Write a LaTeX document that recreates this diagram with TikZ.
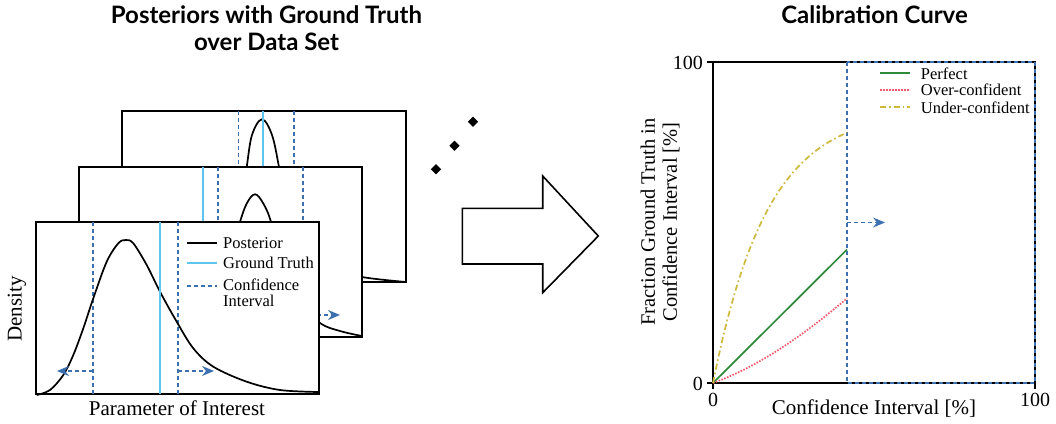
\documentclass[tikz,border=0pt]{standalone}
\usepackage{fontspec}
\setmainfont{Liberation Serif}
\newfontfamily\titlefont{Lato}
\usetikzlibrary{arrows.meta,shapes.geometric}
\definecolor{cib}{RGB}{61,112,174}
\definecolor{gtc}{RGB}{94,197,238}
\definecolor{perf}{RGB}{46,139,58}
\definecolor{overc}{RGB}{240,90,110}
\definecolor{underc}{RGB}{205,185,60}
\begin{document}
\begin{tikzpicture}[x=1pt,y=-1pt,
  frame/.style={draw=black, fill=white, line width=1.9pt},
  post/.style={black, line width=1.7pt},
  gt/.style={gtc, line width=1.7pt},
  ci/.style={cib, line width=1.6pt, dash pattern=on 4pt off 3pt},
  ciarrow/.style={ci, -{Stealth[length=12pt,width=10pt,inset=4pt]}},
  axl/.style={font=\fontsize{21}{24}\selectfont, inner sep=0pt},
  tickl/.style={font=\fontsize{20}{22}\selectfont, inner sep=0pt},
  legl/.style={font=\fontsize{16.5}{16}\selectfont, inner sep=0pt, anchor=west, align=left},
  ttl/.style={font=\titlefont\bfseries\fontsize{24}{27}\selectfont, inner sep=0pt, anchor=base},
  dotmark/.style={diamond, fill=black, inner sep=0pt, minimum size=10.5pt},
  perfl/.style={perf, line width=1.7pt},
  overl/.style={overc, line width=1.7pt, dash pattern=on 1.6pt off 1.4pt},
  underl/.style={underc, line width=1.7pt, dash pattern=on 6pt off 3pt on 1.6pt off 3pt},
]
\useasboundingbox (0,0) rectangle (1056,423);

% titles
\node[ttl] (t1) at (266.5,23) {Posteriors with Ground Truth};
\node[ttl] (t2) at (266.5,50) {over Data Set};
\node[ttl] (t3) at (874.5,23) {Calibration Curve};

% ---------- back frame ----------
\draw[frame] (122,111) rectangle (406,282);
\draw[ci] (238.3,111) -- (238.3,282);
\draw[ci] (294,111) -- (294,282);
\draw[post] plot[smooth, tension=0.6] coordinates {(122,282) (215,281) (236,240) (243,190) (246.7,167) (252,135) (262,119.3) (272,135) (279,167) (285,200) (300,245) (330,268) (362,277) (406,282)};
\draw[gt] (263.3,111) -- (263.3,282);

% ---------- middle frame ----------
\draw[frame] (79,167) rectangle (362,337);
\draw[ci] (217.7,167) -- (217.7,337);
\draw[ci] (302.7,167) -- (302.7,337);
\draw[post] plot[smooth, tension=0.6] coordinates {(79,337) (190,334) (222,300) (233,250) (240,222) (247,203) (255,194.3) (263,203) (271,222) (280,262) (295,300) (320,323) (340,331) (362,336)};
\draw[gt] (203,167) -- (203,337);
\coordinate (m1) at (302.7,315);
\coordinate (m2) at (340,315);
\draw[ciarrow] (m1) -- (m2);

% ---------- front frame ----------
\draw[frame] (36,222) rectangle (319,394);
\draw[ci] (92.7,222) -- (92.7,394);
\draw[ci] (177.7,222) -- (177.7,394);
\draw[post] plot[smooth, tension=0.55] coordinates {(36.7,395) (50,390) (63.3,375) (73.3,355) (83.3,328.3) (93.3,298.3) (106.7,261.7) (118.3,243.3) (125.7,240) (133.3,243.3) (146.7,265) (160,291.7) (176.7,321.7) (193.3,348.3) (213.3,366.7) (246.7,381.7) (280,390) (318.3,392)};
\draw[gt] (160,222) -- (160,394);
\coordinate (a0) at (92.7,371);
\coordinate (a1) at (57,371);
\coordinate (b0) at (177.7,371);
\coordinate (b1) at (214,371);
\draw[ciarrow] (a0) -- (a1);
\draw[ciarrow] (b0) -- (b1);
% legend
\coordinate (lp0) at (187,242.7); \coordinate (lp1) at (217,242.7);
\coordinate (lg0) at (187,263.3); \coordinate (lg1) at (217,263.3);
\coordinate (lc0) at (187,286);   \coordinate (lc1) at (217,286);
\draw[post] (lp0) -- (lp1);
\draw[gt] (lg0) -- (lg1);
\draw[ci] (lc0) -- (lc1);
\node[legl] (lpt) at (223,242.7) {Posterior};
\node[legl] (lgt) at (223,263.3) {Ground Truth};
\node[legl] (lct) at (223,293) {Confidence\\Interval};

\node[axl, rotate=90] (dens) at (17,309) {Density};
\node[axl, anchor=base] (poi) at (177,415) {Parameter of Interest};

% dots
\node[dotmark] (d1) at (436,169.3) {};
\node[dotmark] (d2) at (454.5,145.7) {};
\node[dotmark] (d3) at (473,121.7) {};

% big arrow
\draw[line width=1.6pt, fill=white] (462.3,208.3) -- (542.7,208.3) -- (542.7,176) -- (598.3,236) -- (542.7,292.7) -- (542.7,264) -- (462.3,264) -- cycle;

% ---------- calibration plot ----------
\draw[line width=1.8pt] (713,62) rectangle (1035,383);
\draw[line width=1.4pt] (707,62) -- (713,62);
\draw[line width=1.4pt] (707,383) -- (713,383);
\draw[line width=1.4pt] (713,383) -- (713,389);
\draw[line width=1.4pt] (1035,383) -- (1035,389);
\draw[ci] (847,62) rectangle (1035,383);
\coordinate (c0) at (847,222.5);
\coordinate (c1) at (885,222.5);
\draw[ciarrow] (c0) -- (c1);

\draw[perfl] (713,383) -- (847,249.5);
\draw[overl] (713,383) .. controls (760,366) and (805,334) .. (847,298.3);
\draw[underl] plot[domain=0:0.416, samples=80] ({713+322*\x},{383-273.8*(1-exp(-5.9*\x))});

\coordinate (rp0) at (880,73.3);  \coordinate (rp1) at (910,73.3);
\coordinate (ro0) at (880,90);    \coordinate (ro1) at (910,90);
\coordinate (ru0) at (880,107.3); \coordinate (ru1) at (910,107.3);
\draw[perfl] (rp0) -- (rp1);
\draw[overl] (ro0) -- (ro1);
\draw[underl] (ru0) -- (ru1);
\node[legl] (rpt) at (920.7,73.3) {Perfect};
\node[legl] (rot) at (920.7,90) {Over-confident};
\node[legl] (rut) at (920.7,107.3) {Under-confident};

\node[tickl, anchor=east] (y100) at (703,63) {100};
\node[tickl, anchor=east] (y0) at (703,384) {0};
\node[tickl] (x0) at (713,400) {0};
\node[tickl] (x100) at (1035,400) {100};
\node[axl, anchor=base] (cil) at (874,414) {Confidence Interval [\%]};
\node[axl, rotate=90, align=center, font=\fontsize{20.5}{22}\selectfont] (fgt) at (660,222) {Fraction Ground Truth in\\Confidence Interval [\%]};
\end{tikzpicture}
\end{document}
